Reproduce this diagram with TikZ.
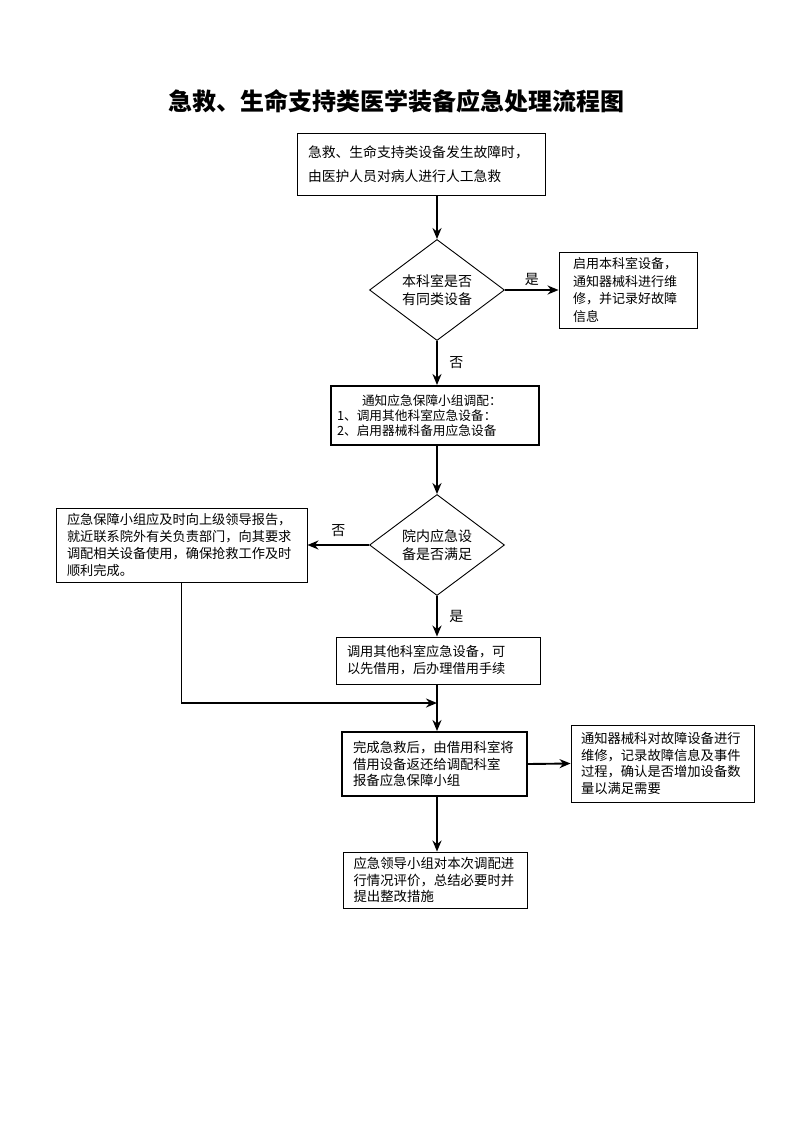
\documentclass[tikz,border=0pt]{standalone}
\usepackage{fontspec}
\usepackage{tikz}
\usetikzlibrary{shapes, positioning, arrows.meta}
\newfontfamily\cjk{Noto Sans CJK SC}

\begin{document}
\begin{tikzpicture}[x=1pt, y=-1pt, font=\cjk\fontsize{13.2}{17}\selectfont,
    box/.style = {draw, line width=0.9pt, inner ysep=0pt, align=left},
    boldbox/.style = {box, line width=2pt},
    choice/.style = {draw, diamond, line width=0.9pt, inner sep=0pt, minimum width=135pt, minimum height=96pt, align=center, font=\cjk\fontsize{14}{18}\selectfont},
    flow/.style = {line width=1.9pt, -{Stealth[length=11pt, width=9pt]}},
    tag/.style = {font=\cjk\fontsize{14}{15}\selectfont}]
    \useasboundingbox (0,0) rectangle (793,1122);

    \node (title) at (396,101) {\fontsize{24}{26}\selectfont\bfseries 急救、生命支持类医学装备应急处理流程图};

    \node[box, text width=226pt, inner xsep=11pt, minimum height=62pt, font=\cjk\fontsize{13.8}{24}\selectfont] (fault) at (421,164)
        {急救、生命支持类设备发生故障时，\\由医护人员对病人进行人工急救};
    \node[choice] (own) at (437,290) {本科室是否\\有同类设备};
    \node[box, text width=110pt, inner xsep=14pt, minimum height=76pt, font=\cjk\fontsize{13}{17.5}\selectfont] (useown) at (628,290)
        {启用本科室设备，\\通知器械科进行维\\修，并记录好故障\\信息};
    \node[boldbox, text width=196pt, inner xsep=6pt, minimum height=59pt, font=\cjk\fontsize{12.7}{15}\selectfont] (notify) at (435,415.5)
        {\hspace{25pt}通知应急保障小组调配：\\1、调用其他科室应急设备：\\2、启用器械科备用应急设备};
    \node[choice] (enough) at (437,545) {院内应急设\\备是否满足};
    \node[box, text width=229pt, inner xsep=11pt, minimum height=74pt] (report) at (181.5,545)
        {应急保障小组应及时向上级领导报告，\\就近联系院外有关负责部门，向其要求\\调配相关设备使用，确保抢救工作及时\\顺利完成。};
    \node[box, text width=182pt, inner xsep=11pt, minimum height=47pt] (borrow) at (438,660.5)
        {调用其他科室应急设备，可\\以先借用，后办理借用手续};
    \coordinate (join) at (437,703);
    \node[boldbox, text width=163pt, inner xsep=11pt, minimum height=64pt, font=\cjk\fontsize{13.4}{16.5}\selectfont] (giveback) at (434.5,764)
        {完成急救后，由借用科室将\\借用设备返还给调配科室\\报备应急保障小组};
    \node[box, text width=163pt, inner xsep=10pt, minimum height=77pt, font=\cjk\fontsize{13.3}{16.5}\selectfont] (repair) at (662.5,763.5)
        {通知器械科对故障设备进行\\维修，记录故障信息及事件\\过程，确认是否增加设备数\\量以满足需要};
    \node[box, text width=163pt, inner xsep=10.5pt, minimum height=56pt, font=\cjk\fontsize{13.4}{16.5}\selectfont] (review) at (435,880)
        {应急领导小组对本次调配进\\行情况评价，总结必要时并\\提出整改措施};

    \draw[flow] (own.north |- fault.south) -- (own.north);
    \draw[flow] (own.east) -- node[tag, above] {是} (useown.west);
    \draw[flow] (own.south) -- node[tag, right, xshift=8pt] {否} (own.south |- notify.north);
    \draw[flow] (own.north |- notify.south) -- (enough.north);
    \draw[flow] (enough.west) -- node[tag, above, yshift=4pt] {否} (report.east);
    \draw[flow] (enough.south) -- node[tag, right, xshift=8pt] {是} (enough.south |- borrow.north);
    \draw[flow] (report.south) |- (join);
    \draw[flow] (join |- borrow.south) -- (join |- giveback.north);
    \draw[flow] (giveback.east) -- (repair.west);
    \draw[flow] (join |- giveback.south) -- (join |- review.north);
\end{tikzpicture}
\end{document}
